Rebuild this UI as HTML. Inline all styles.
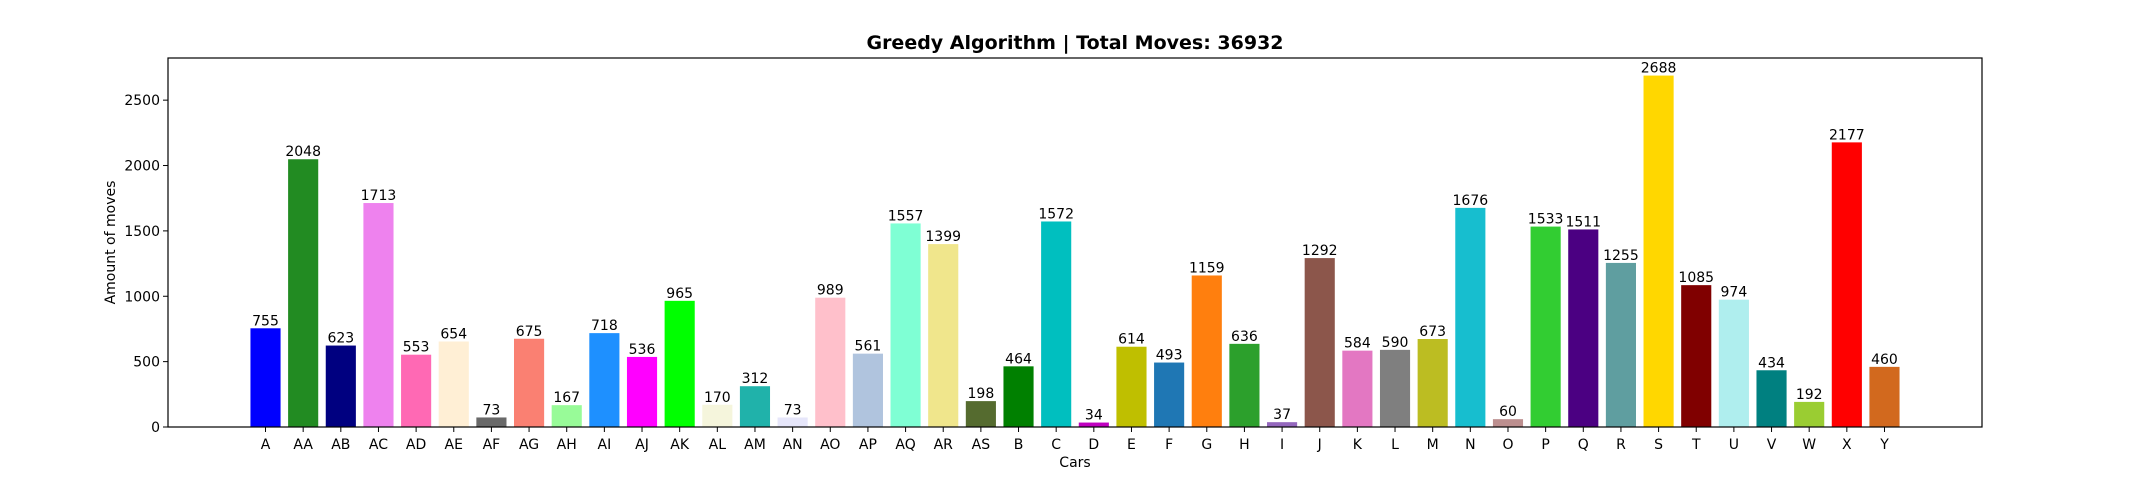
<!DOCTYPE html>
<html><head><meta charset="utf-8"><style>
body{margin:0;background:#fff}
svg{display:block;font-family:"DejaVu Sans","Liberation Sans",sans-serif}
</style></head><body>
<svg id="chart" width="2150" height="480"></svg>
<script>
const categories=["A","AA","AB","AC","AD","AE","AF","AG","AH","AI","AJ","AK","AL","AM","AN","AO","AP","AQ","AR","AS","B","C","D","E","F","G","H","I","J","K","L","M","N","O","P","Q","R","S","T","U","V","W","X","Y"];
const values=[755,2048,623,1713,553,654,73,675,167,718,536,965,170,312,73,989,561,1557,1399,198,464,1572,34,614,493,1159,636,37,1292,584,590,673,1676,60,1533,1511,1255,2688,1085,974,434,192,2177,460];
const colors=["#0000ff","#228b22","#000080","#ee82ee","#ff69b4","#ffefd5","#696969","#fa8072","#98fb98","#1e90ff","#ff00ff","#00ff00","#f5f5dc","#20b2aa","#e6e6fa","#ffc0cb","#b0c4de","#7fffd4","#f0e68c","#556b2f","#008000","#00bfbf","#bf00bf","#bfbf00","#1f77b4","#ff7f0e","#2ca02c","#9467bd","#8c564b","#e377c2","#7f7f7f","#bcbd22","#17becf","#bc8f8f","#32cd32","#4b0082","#5f9ea0","#ffd700","#800000","#afeeee","#008080","#9acd32","#ff0000","#d2691e"];
const yTicks=[0,500,1000,1500,2000,2500];
const title="Greedy Algorithm | Total Moves: 36932";
const NS="http://www.w3.org/2000/svg";
const svg=document.getElementById('chart');
const L=168,R=1982,T=58,B=427;
const ymax=Math.max(...values)*1.05;
const xmin=-2.59,xmax=categories.length-1+2.59;
function xs(i){return L+(i-xmin)/(xmax-xmin)*(R-L);}
function ys(v){return B-v/ymax*(B-T);}
function mk(tag,attrs,text){const e=document.createElementNS(NS,tag);for(const k in attrs)e.setAttribute(k,attrs[k]);if(text!==undefined)e.textContent=text;svg.appendChild(e);return e;}
const bw=(xs(0.8)-xs(0));
values.forEach((v,i)=>{
  const r=mk('rect',{x:xs(i)-bw/2,y:ys(v),width:bw,height:B-ys(v),fill:colors[i]});
  
  
  const t=mk('text',{x:xs(i),y:ys(v)-3,'text-anchor':'middle','font-size':'14'},String(v));
  
  
  const tk=mk('line',{x1:xs(i),x2:xs(i),y1:B,y2:B+5,stroke:'#000','stroke-width':1});
  
  
  const tl=mk('text',{x:xs(i),y:B+22,'text-anchor':'middle','font-size':'14'},categories[i]);
  
  
});
yTicks.forEach(v=>{
  const tk=mk('line',{x1:L-5,x2:L,y1:ys(v),y2:ys(v),stroke:'#000','stroke-width':1});
  
  
  const tl=mk('text',{x:L-8,y:ys(v)+5,'text-anchor':'end','font-size':'14'},String(v));
  
  
});
const fr=mk('rect',{x:L,y:T,width:R-L,height:B-T,fill:'none',stroke:'#000','stroke-width':1.2});


const tt=mk('text',{x:(L+R)/2,y:49,'text-anchor':'middle','font-size':'19','font-weight':'bold'},title);


const xl=mk('text',{x:(L+R)/2,y:467,'text-anchor':'middle','font-size':'14'},'Cars');


const yl=mk('text',{x:0,y:0,'text-anchor':'middle','font-size':'14',transform:'translate(115,'+((T+B)/2)+') rotate(-90)'},'Amount of moves');


</script>
</body></html>
